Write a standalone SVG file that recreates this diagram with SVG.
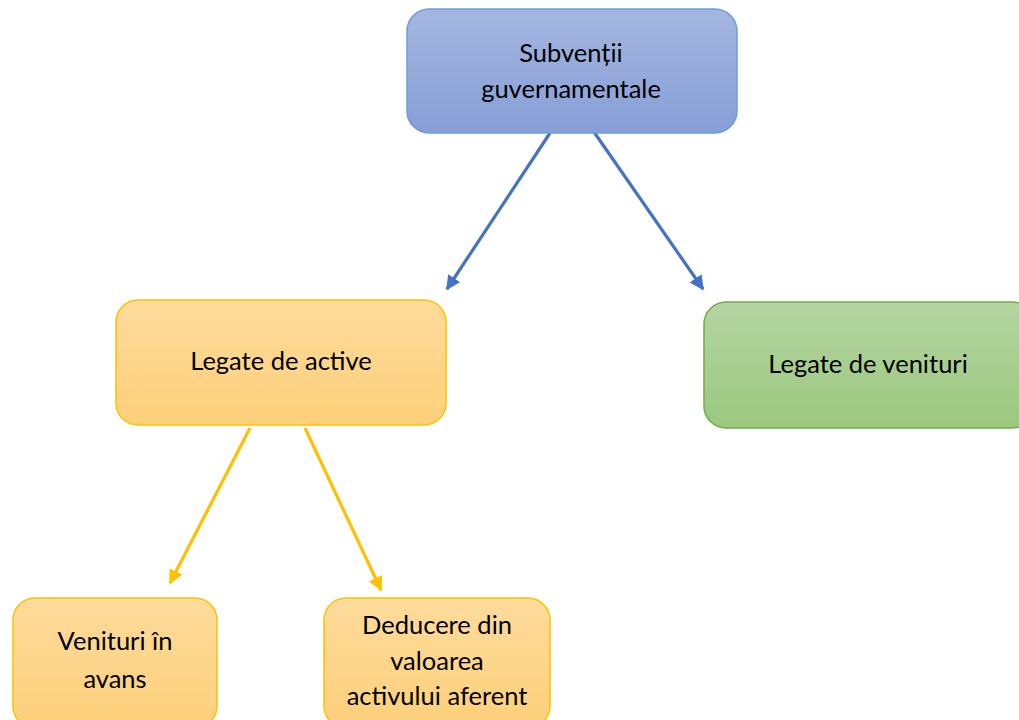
<svg xmlns="http://www.w3.org/2000/svg" width="1019" height="720" viewBox="0 0 1019 720">
<defs>
<linearGradient id="gb" x1="0" y1="0" x2="0" y2="1"><stop offset="0" stop-color="#a5b6e0"/><stop offset="1" stop-color="#869fd7"/></linearGradient>
<linearGradient id="go" x1="0" y1="0" x2="0" y2="1"><stop offset="0" stop-color="#fedb9c"/><stop offset="1" stop-color="#fdd07a"/></linearGradient>
<linearGradient id="gg" x1="0" y1="0" x2="0" y2="1"><stop offset="0" stop-color="#b5d4a2"/><stop offset="1" stop-color="#9bc87e"/></linearGradient>
<marker id="ab" viewBox="0 0 10 10" refX="9" refY="5" markerWidth="4.5" markerHeight="4.5" orient="auto" markerUnits="strokeWidth"><path d="M0,0 L10,5 L0,10 z" fill="#4472c4"/></marker>
<marker id="ay" viewBox="0 0 10 10" refX="9" refY="5" markerWidth="4.5" markerHeight="4.5" orient="auto" markerUnits="strokeWidth"><path d="M0,0 L10,5 L0,10 z" fill="#ffc000"/></marker>
</defs>
<style>
text{font-family:Lato,"Open Sans","Liberation Sans",sans-serif;font-size:25.5px;fill:#000;text-anchor:middle}
.b{fill:url(#gb);stroke:#6a9fd8;stroke-width:1.5}
.o{fill:url(#go);stroke:#ffc000;stroke-width:1.5}
.g{fill:url(#gg);stroke:#70ad47;stroke-width:1.5}
.cb{stroke:#4472c4;stroke-width:3.2;fill:none}
.cy{stroke:#ffc000;stroke-width:3.2;fill:none}
</style>
<rect width="1019" height="720" fill="#fff"/>
<g id="connectors">
<line class="cb" x1="550" y1="133" x2="447" y2="289" marker-end="url(#ab)"/>
<line class="cb" x1="594" y1="132" x2="703" y2="289" marker-end="url(#ab)"/>
<line class="cy" x1="250" y1="428" x2="170" y2="583" marker-end="url(#ay)"/>
<line class="cy" x1="305" y1="428" x2="381" y2="590" marker-end="url(#ay)"/>
</g>
<g id="n-subventii">
<rect class="b" x="407" y="9" width="330" height="124" rx="22"/>
<text x="571" y="62">Subvenții</text>
<text x="571" y="98">guvernamentale</text>
</g>
<g id="n-active">
<rect class="o" x="116" y="300" width="330" height="125" rx="22"/>
<text x="281" y="370">Legate de active</text>
</g>
<g id="n-venituri">
<rect class="g" x="704" y="302" width="330" height="126" rx="22"/>
<text x="868" y="373">Legate de venituri</text>
</g>
<g id="n-avans">
<rect class="o" x="13" y="598" width="204" height="130" rx="22"/>
<text x="115" y="650">Venituri în</text>
<text x="115" y="688">avans</text>
</g>
<g id="n-deducere">
<rect class="o" x="324" y="598" width="226" height="130" rx="22"/>
<text x="437" y="634">Deducere din</text>
<text x="437" y="670">valoarea</text>
<text x="437" y="705">activului aferent</text>
</g>
</svg>
